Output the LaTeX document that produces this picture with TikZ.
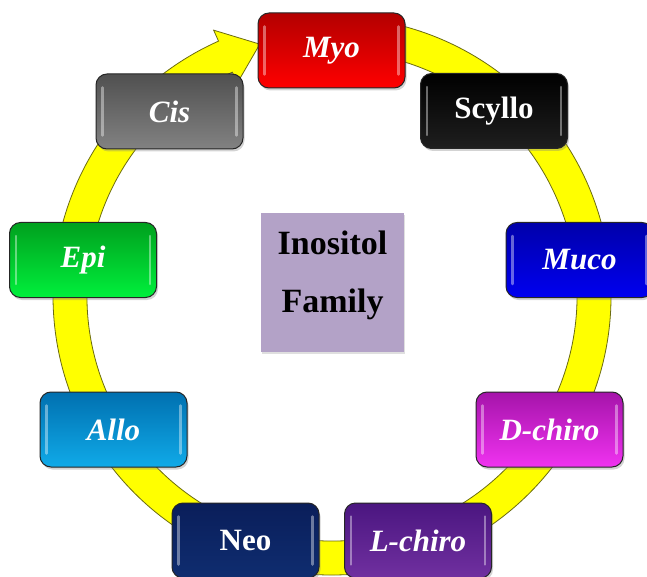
\documentclass[tikz,border=0pt]{standalone}
\usepackage{fontspec}
\setmainfont{Liberation Serif}
\usetikzlibrary{shadows}
\definecolor{ringfill}{HTML}{FFFF00}
\definecolor{ringedge}{HTML}{6B6B10}
\definecolor{lav}{HTML}{B3A2C7}
\tikzset{
  gbox/.style={draw=black!85, line width=1pt, rounded corners=11pt,
    minimum width=147pt, minimum height=75pt, inner sep=0pt,
    text=white, font=\fontsize{31}{36}\selectfont\bfseries\itshape,
    drop shadow={shadow xshift=1.5pt, shadow yshift=-2.5pt, opacity=0.35}},
  gup/.style={font=\fontsize{31}{36}\selectfont\bfseries},
  hl/.style={draw=white, opacity=0.4, line width=2.5pt, line cap=round},
  ringshape/.style={fill=ringfill, draw=ringedge, line width=0.8pt}
}
\begin{document}
\begin{tikzpicture}[x=1pt,y=1pt]
\useasboundingbox (0,0) rectangle (647,-577);
% ring arrow
\begin{scope}[shift={(332,-296)}]
\path[ringshape] (95:279pt) arc[start angle=95, end angle=-246, radius=279pt]
  -- (-246:291pt) -- (-254:262pt) -- (-246:233pt) -- (-246:245pt)
  arc[start angle=-246, end angle=95, radius=245pt] -- cycle;
\end{scope}
% boxes
\node[gbox, top color=red!70!black, bottom color=red] (myo) at (331.5,-50.5) {\raisebox{-2pt}{Myo}};
\node[gbox, gup, top color=black, bottom color=black!88] (scyllo) at (494,-111) {\raisebox{-2pt}{Scyllo}};
\node[gbox, top color={rgb,255:red,0;green,0;blue,170}, bottom color={rgb,255:red,0;green,0;blue,240}] (muco) at (579.5,-260) {\raisebox{-2pt}{Muco}};
\node[gbox, top color={rgb,255:red,165;green,20;blue,170}, bottom color={rgb,255:red,240;green,50;blue,240}] (dchiro) at (549.5,-429.5) {\raisebox{-2pt}{D-chiro}};
\node[gbox, top color={rgb,255:red,75;green,22;blue,128}, bottom color={rgb,255:red,112;green,48;blue,160}] (lchiro) at (418,-540.5) {\raisebox{-2pt}{L-chiro}};
\node[gbox, gup, top color={rgb,255:red,10;green,30;blue,90}, bottom color={rgb,255:red,15;green,45;blue,112}] (neo) at (245.5,-540.5) {\raisebox{-2pt}{Neo}};
\node[gbox, top color={rgb,255:red,0;green,112;blue,176}, bottom color={rgb,255:red,16;green,170;blue,232}] (allo) at (113.5,-429.5) {\raisebox{-2pt}{Allo}};
\node[gbox, top color={rgb,255:red,0;green,160;blue,30}, bottom color={rgb,255:red,0;green,240;blue,60}] (epi) at (83,-260) {\raisebox{-2pt}{Epi}};
\node[gbox, top color={rgb,255:red,80;green,80;blue,80}, bottom color={rgb,255:red,130;green,130;blue,130}] (cis) at (169.5,-111.5) {\raisebox{-2pt}{Cis}};
\foreach \n in {myo,scyllo,muco,dchiro,lchiro,neo,allo,epi,cis}{
  \draw[hl] ([shift={(7,-14)}]\n.north west) -- ([shift={(7,14)}]\n.south west);
  \draw[hl] ([shift={(-7,-14)}]\n.north east) -- ([shift={(-7,14)}]\n.south east);
}
% centre
\node[fill=lav, minimum width=143pt, minimum height=139pt, inner sep=0pt,
  drop shadow={shadow xshift=1pt, shadow yshift=-2pt, opacity=0.25}]
  (center) at (332.5,-282.5) {};
\node[align=center, font=\fontsize{34}{58}\selectfont\bfseries, inner sep=0pt]
  (centertext) at (332.5,-275) {Inositol\\Family};
\end{tikzpicture}
\end{document}
